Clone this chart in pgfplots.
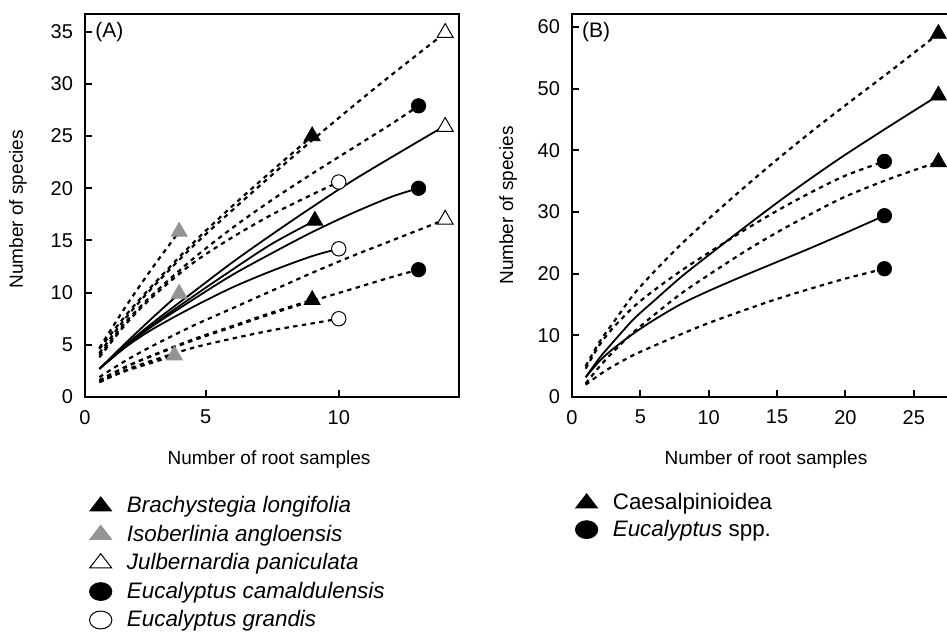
\documentclass[border=0pt]{standalone}
\usepackage{fontspec}
\setmainfont{Liberation Sans}
\usepackage{pgfplots}
\pgfplotsset{compat=1.18}
\definecolor{grayt}{gray}{0.58}
\pgfplotsset{
  myaxis/.style={scale only axis, clip=false,
    axis line style={line width=1.2pt},
    tick align=inside, xtick pos=lower, ytick pos=left,
    major tick length=3.5pt, tick style={line width=1pt, black},
    ticklabel style={font=\fontsize{10}{11}\selectfont},
    yticklabel style={xshift=-2.5pt},
    xticklabel style={yshift=-3pt},
    /pgf/number format/assume math mode=true,
    label style={font=\fontsize{9.5}{11}\selectfont},
  },
  sol/.style={line width=0.9pt, black, smooth, no marks},
  dsh/.style={line width=1.1pt, black, dash pattern=on 2.2pt off 2.2pt, smooth, no marks},
}
\begin{document}
\begin{tikzpicture}
\useasboundingbox (0,0) rectangle (473.5pt,316pt);
\clip (0,0) rectangle (473.5pt,316pt);
% ---------------- Panel A
\begin{axis}[myaxis,
  at={(42.5pt,117.5pt)}, anchor=south west,
  width=187pt, height=191.5pt,
  xmin=0.46, xmax=14.52, ymin=0, ymax=36.7,
  xtick={0.46,5,10}, xticklabels={0,5,10},
  ytick={0,5,...,35},
  xlabel={Number of root samples},
  ylabel={Number of species},
  xlabel style={at={(axis description cs:0.492,-0.164)}, anchor=center},
  ylabel style={at={(axis description cs:-0.179,0.49)}, anchor=center},
  legend style={draw=none, fill=none, at={(axis description cs:0.011,-0.256)}, anchor=north west,
    font=\fontsize{11.2}{12}\selectfont\itshape, row sep=3.4pt, inner sep=0pt,
    nodes={inner ysep=0.6pt, inner xsep=3pt}},
  legend cell align=left,
]
\addlegendimage{only marks, mark=triangle*, mark size=6.3pt, mark options={yscale=0.75, fill=black, draw=black}}
\addlegendentry{\hspace{4.5pt}Brachystegia longifolia}
\addlegendimage{only marks, mark=triangle*, mark size=6.3pt, mark options={yscale=0.75, fill=grayt, draw=grayt}}
\addlegendentry{\hspace{4.5pt}Isoberlinia angloensis}
\addlegendimage{only marks, mark=triangle*, mark size=6.3pt, mark options={yscale=0.75, fill=white, draw=black, line width=0.5pt}}
\addlegendentry{\hspace{4.5pt}Julbernardia paniculata}
\addlegendimage{only marks, mark=*, mark size=5.6pt, mark options={yscale=0.8, fill=black, draw=black}}
\addlegendentry{\hspace{4.5pt}Eucalyptus camaldulensis}
\addlegendimage{only marks, mark=*, mark size=5.6pt, mark options={yscale=0.8, fill=white, draw=black, line width=0.5pt}}
\addlegendentry{\hspace{4.5pt}Eucalyptus grandis}
% Brachystegia longifolia
\addplot[sol, forget plot] coordinates {(1,2.7)(2,4.9)(3,6.9)(4.5,9.6)(6,12.2)(7.5,14.7)(9.1,16.9)};
\addplot[dsh, forget plot] coordinates {(1,4.6)(2,7.85)(3,10.7)(4.5,14.7)(6,18.3)(7.5,21.7)(9,25.0)};
\addplot[dsh, forget plot] coordinates {(1,1.6)(2,2.9)(3,4.0)(4.5,5.5)(6,6.8)(7.5,8.1)(9,9.3)};
% Isoberlinia angloensis
\addplot[sol, forget plot] coordinates {(1,2.7)(2,5.2)(3,7.6)(4,9.9)};
\addplot[dsh, forget plot] coordinates {(1,4.7)(2,8.7)(3,12.4)(4,15.85)};
\addplot[dsh, forget plot] coordinates {(1,1.5)(2,2.5)(3,3.3)(3.82,4.0)};
% Julbernardia paniculata
\addplot[sol, forget plot] coordinates {(1,2.7)(2,5.0)(3,7.1)(4.5,10.0)(6,12.9)(7.5,15.6)(9,18.2)(10.5,20.7)(12,23.0)(14,26.0)};
\addplot[dsh, forget plot] coordinates {(1,4.2)(2,7.6)(3,10.5)(4.5,14.4)(6,17.9)(7.5,21.3)(9,24.6)(10.5,27.8)(12,30.9)(14,34.9)};
\addplot[dsh, forget plot] coordinates {(1,1.9)(2,3.5)(3,4.9)(4.5,6.8)(6,8.5)(7.5,10.2)(9,11.9)(10.5,13.5)(12,15.0)(14,17.0)};
% Eucalyptus camaldulensis
\addplot[sol, forget plot] coordinates {(1,2.7)(2,4.9)(3,6.8)(4.5,9.3)(6,11.7)(7.5,13.8)(9,15.8)(10.5,17.6)(12,19.2)(13,20.0)};
\addplot[dsh, forget plot] coordinates {(1,4.0)(2,7.2)(3,9.8)(4.5,13.2)(6,16.2)(7.5,18.9)(9,21.4)(10.5,23.8)(12,26.2)(13,27.9)};
\addplot[dsh, forget plot] coordinates {(1,1.6)(2,2.9)(3,3.95)(4.5,5.4)(6,6.7)(7.5,8.0)(9,9.2)(10.5,10.35)(12,11.5)(13,12.2)};
% Eucalyptus grandis
\addplot[sol, forget plot] coordinates {(1,2.7)(2,4.8)(3,6.5)(4.5,8.6)(6,10.5)(7.5,12.1)(9,13.5)(10,14.2)};
\addplot[dsh, forget plot] coordinates {(1,3.8)(2,7.0)(3,9.6)(4.5,12.8)(6,15.3)(7.5,17.5)(9,19.4)(10,20.6)};
\addplot[dsh, forget plot] coordinates {(1,1.4)(2,2.6)(3,3.5)(4.5,4.7)(6,5.6)(7.5,6.4)(9,7.05)(10,7.5)};
% markers
\addplot[only marks, forget plot, mark=triangle*, mark size=4.6pt, mark options={fill=black, draw=black}] coordinates {(9,25.0)(9.1,16.9)(9,9.3)};
\addplot[only marks, forget plot, mark=triangle*, mark size=4.6pt, mark options={fill=grayt, draw=grayt}] coordinates {(4,15.85)(4,9.9)(3.82,4.0)};
\addplot[only marks, forget plot, mark=triangle*, mark size=4.6pt, mark options={fill=white, draw=black, line width=0.5pt}] coordinates {(14,34.9)(14,25.9)(14,17.0)};
\addplot[only marks, forget plot, mark=*, mark size=3.6pt, mark options={fill=black, draw=black}] coordinates {(13,27.9)(13,20.0)(13,12.2)};
\addplot[only marks, forget plot, mark=*, mark size=3.6pt, mark options={fill=white, draw=black, line width=0.5pt}] coordinates {(10,20.6)(10,14.2)(10,7.5)};
\node[anchor=north west, inner sep=0pt, font=\fontsize{10.5}{11}\selectfont] at (axis description cs:0.027,0.979) {(A)};
\end{axis}
% ---------------- Panel B
\begin{axis}[myaxis,
  at={(286pt,117.5pt)}, anchor=south west,
  width=189pt, height=191.5pt,
  xmin=0, xmax=27.65, ymin=0, ymax=62.1,
  xtick={0,5,...,25},
  ytick={0,10,...,60},
  xlabel={Number of root samples},
  ylabel={Number of species},
  xlabel style={at={(axis description cs:0.513,-0.164)}, anchor=center},
  ylabel style={at={(axis description cs:-0.169,0.5)}, anchor=center},
  legend style={draw=none, fill=none, at={(axis description cs:0.008,-0.248)}, anchor=north west,
    font=\fontsize{11.2}{12}\selectfont, row sep=2.4pt, inner sep=0pt,
    nodes={inner ysep=0.6pt, inner xsep=3pt}},
  legend cell align=left,
]
\addlegendimage{only marks, mark=triangle*, mark size=6.3pt, mark options={yscale=0.75, fill=black, draw=black}}
\addlegendentry{\hspace{4.5pt}Caesalpinioidea}
\addlegendimage{only marks, mark=*, mark size=5.6pt, mark options={yscale=0.8, fill=black, draw=black}}
\addlegendentry{\hspace{4.5pt}\textit{Eucalyptus} spp.}
% Caesalpinioidea
\addplot[sol, forget plot] coordinates {(1,3.2)(2,6.3)(3,8.9)(4.5,12.6)(6,15.6)(8,19.5)(10,23.0)(12.5,27.3)(15,31.5)(17.5,35.5)(20,39.3)(23.5,44.3)(26.8,48.9)};
\addplot[dsh, forget plot] coordinates {(1,5.0)(2,8.9)(3,12.0)(4.5,16.6)(6,20.3)(8,24.8)(10,28.9)(12.5,33.8)(15,38.5)(17.5,43.0)(20,47.3)(23.5,53.2)(26.8,58.9)};
\addplot[dsh, forget plot] coordinates {(1,2.2)(2,4.9)(3,7.3)(4.5,10.5)(6,13.3)(8,16.8)(10,19.8)(12.5,23.4)(15,26.7)(17.5,29.7)(20,32.5)(23.5,35.6)(26.8,38.1)};
% Eucalyptus spp.
\addplot[sol, forget plot] coordinates {(1,3.2)(2,5.8)(3,7.8)(4.5,10.3)(6,12.5)(8,15.1)(10,17.2)(12.5,19.6)(15,21.9)(17.5,24.2)(20,26.6)(22.85,29.4)};
\addplot[dsh, forget plot] coordinates {(1,4.6)(2,8.4)(3,11.2)(4.5,14.6)(6,17.3)(8,20.5)(10,23.4)(12.5,26.9)(15,30.2)(17.5,33.2)(20,35.9)(22.85,38.2)};
\addplot[dsh, forget plot] coordinates {(1,2.0)(2,3.6)(3,5.0)(4.5,6.8)(6,8.3)(8,10.2)(10,12.0)(12.5,14.0)(15,15.9)(17.5,17.6)(20,19.2)(22.85,20.8)};
% markers
\addplot[only marks, forget plot, mark=triangle*, mark size=4.6pt, mark options={fill=black, draw=black}] coordinates {(26.8,58.9)(26.8,48.9)(26.8,38.1)};
\addplot[only marks, forget plot, mark=*, mark size=3.6pt, mark options={fill=black, draw=black}] coordinates {(22.85,38.2)(22.85,29.4)(22.85,20.8)};
\node[anchor=north west, inner sep=0pt, font=\fontsize{10.5}{11}\selectfont] at (axis description cs:0.026,0.979) {(B)};
\end{axis}
\end{tikzpicture}
\end{document}
